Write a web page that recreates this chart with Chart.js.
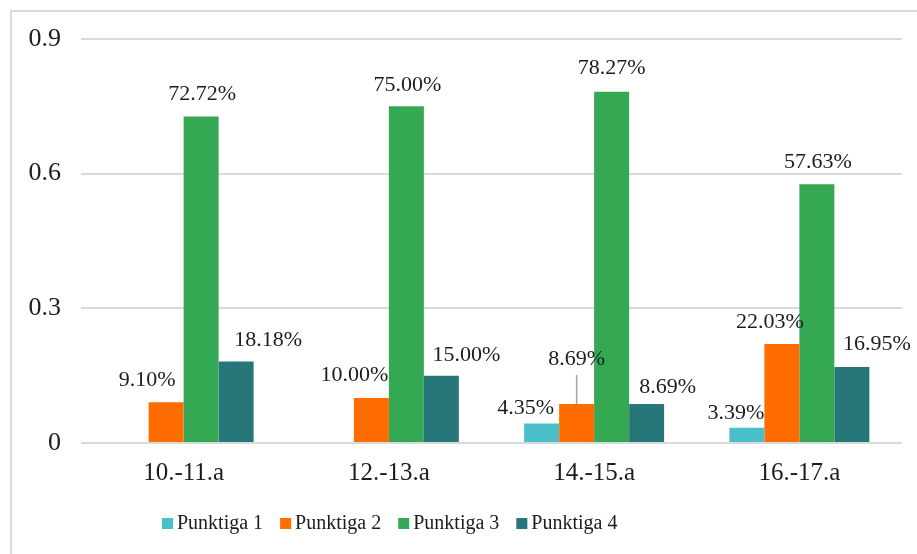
<!DOCTYPE html>
<html>
<head>
<meta charset="utf-8">
<script src="https://cdn.jsdelivr.net/npm/chart.js@4/dist/chart.umd.min.js"></script>
<style>
  html, body { margin: 0; padding: 0; background: #ffffff; }
  #wrap { width: 917px; height: 554px; position: relative; }
</style>
</head>
<body>
<div id="wrap"><canvas id="c" width="917" height="554"></canvas></div>
<script>
// ---- data ----
const categories = ['10.-11.a', '12.-13.a', '14.-15.a', '16.-17.a'];
const seriesNames = ['Punktiga 1', 'Punktiga 2', 'Punktiga 3', 'Punktiga 4'];
const punktiga1 = [null, null, 0.0435, 0.0339];
const punktiga2 = [0.0910, 0.1000, 0.0869, 0.2203];
const punktiga3 = [0.7272, 0.7500, 0.7827, 0.5763];
const punktiga4 = [0.1818, 0.1500, 0.0869, 0.1695];
const yTicks = [0, 0.3, 0.6, 0.9];

// ---- styles ----
const colors = ['#4BBFC9', '#FF6D01', '#35A853', '#26767A'];
const serif = '"Liberation Serif", "Times New Roman", serif';
const textColor = '#1c1c1c';
const gridColor = '#D9D9D9';
// label offsets (dx, dy from bar top centre), manual placement as in reference
const labelOffsets = [
  [null, null, [-16, -15], [-11, -15]],
  [[-19, -22], [-17, -23], [0, -45, true], [-12, -22]],
  [[1, -22], [1, -21], [0, -23], [1, -22]],
  [[32, -21], [25, -20], [21, -17], [25, -23]]
];

const seriesValues = [punktiga1, punktiga2, punktiga3, punktiga4];

const dataLabelPlugin = {
  id: 'dataLabels',
  afterDatasetsDraw(chart) {
    const ctx = chart.ctx;
    ctx.save();
    ctx.font = '22px ' + serif;
    ctx.fillStyle = textColor;
    ctx.textAlign = 'center';
    ctx.textBaseline = 'middle';
    chart.data.datasets.forEach((ds, di) => {
      const meta = chart.getDatasetMeta(di);
      meta.data.forEach((bar, i) => {
        const v = ds.data[i];
        const off = labelOffsets[di][i];
        if (v == null || !off) return;
        const x = bar.x + off[0];
        const y = bar.y + off[1];
        ctx.fillText((v * 100).toFixed(2) + '%', x, y);
        if (off[2]) {
          ctx.save();
          ctx.strokeStyle = '#A6A6A6';
          ctx.lineWidth = 1.5;
          ctx.beginPath();
          ctx.moveTo(bar.x, y + 16);
          ctx.lineTo(bar.x, bar.y);
          ctx.stroke();
          ctx.restore();
        }
      });
    });
    ctx.restore();
  }
};

const frameLegendPlugin = {
  id: 'frameLegend',
  afterDraw(chart) {
    const ctx = chart.ctx;
    ctx.save();
    // outer chart frame (cropped at right/bottom in reference)
    ctx.strokeStyle = '#D9D9D9';
    ctx.lineWidth = 2;
    ctx.beginPath();
    ctx.moveTo(11, 560);
    ctx.lineTo(11, 11);
    ctx.lineTo(930, 11);
    ctx.stroke();
    // legend
    ctx.font = '20px ' + serif;
    ctx.textBaseline = 'middle';
    ctx.textAlign = 'left';
    let x = 162;
    const yc = 524;
    chart.data.datasets.forEach((ds) => {
      ctx.fillStyle = ds.backgroundColor;
      ctx.fillRect(x, yc - 6, 11, 11);
      ctx.fillStyle = textColor;
      ctx.fillText(ds.label, x + 15, yc);
      x += 15 + ctx.measureText(ds.label).width + 17;
    });
    ctx.restore();
  }
};

const datasets = seriesNames.map((name, i) => ({
  label: name,
  data: seriesValues[i],
  backgroundColor: colors[i],
  borderWidth: 0,
  barPercentage: 1.0,
  categoryPercentage: 0.682
}));

new Chart(document.getElementById('c'), {
  type: 'bar',
  data: { labels: categories, datasets },
  options: {
    responsive: false,
    animation: false,
    layout: { padding: { left: 10, right: 15, top: 39, bottom: 61 } },
    plugins: { legend: { display: false }, tooltip: { enabled: false } },
    scales: {
      x: {
        grid: { display: false, drawTicks: false },
        border: { display: false },
        ticks: { color: textColor, font: { family: serif, size: 25 }, padding: 15 },
        afterFit(scale) { scale.height = 50; }
      },
      y: {
        min: 0,
        max: 0.9,
        afterBuildTicks(scale) { scale.ticks = yTicks.map(v => ({ value: v })); },
        grid: { color: gridColor, lineWidth: 2, drawTicks: false },
        border: { display: false },
        ticks: {
          color: textColor,
          font: { family: serif, size: 26 },
          padding: 20,
          callback: (v) => (v === 0 ? '0' : Number(v).toFixed(1))
        },
        afterFit(scale) { scale.width = 71; }
      }
    }
  },
  plugins: [dataLabelPlugin, frameLegendPlugin]
});
</script>
</body>
</html>
